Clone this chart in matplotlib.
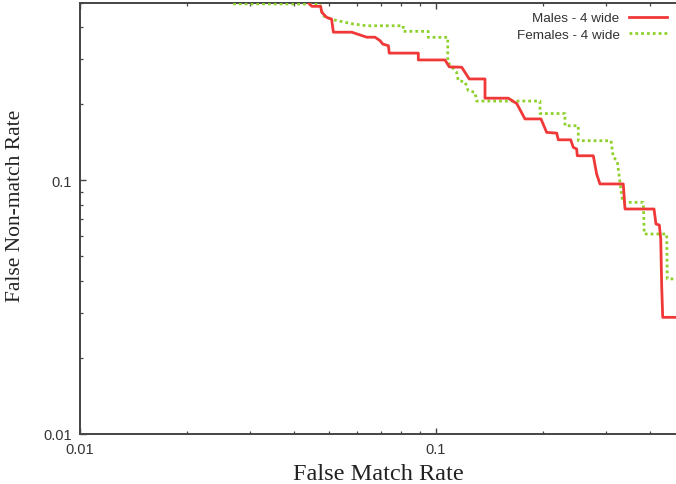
import matplotlib
matplotlib.use("Agg")
import matplotlib.pyplot as plt
from matplotlib.ticker import LogLocator, NullFormatter, FixedLocator, FixedFormatter

# Males - 4 wide (FMR, FNMR)
males_fmr = [0.0425, 0.0448, 0.0474, 0.0478, 0.0493, 0.0509, 0.0515, 0.0580, 0.0639,
             0.0674, 0.0696, 0.0709, 0.0735, 0.0739, 0.0892, 0.0892, 0.1060, 0.1090,
             0.1181, 0.1240, 0.1373, 0.1373, 0.1596, 0.1686, 0.1778, 0.1972, 0.2046,
             0.2183, 0.2206, 0.2390, 0.2430, 0.2484, 0.2494, 0.2766, 0.2827, 0.2888,
             0.3358, 0.3396, 0.4097, 0.4150, 0.4240, 0.4279, 0.4305, 0.4334, 0.50]
males_fnmr = [0.52, 0.483, 0.483, 0.457, 0.437, 0.430, 0.382, 0.382, 0.365,
              0.365, 0.354, 0.343, 0.338, 0.316, 0.316, 0.297, 0.297, 0.279,
              0.278, 0.250, 0.250, 0.210, 0.210, 0.200, 0.174, 0.174, 0.154,
              0.153, 0.144, 0.144, 0.1345, 0.1325, 0.1246, 0.1246, 0.1056, 0.0965,
              0.0965, 0.0769, 0.0769, 0.0671, 0.0665, 0.0586, 0.0384, 0.0288, 0.0288]

# Females - 4 wide (FMR, FNMR)
females_fmr = [0.0269, 0.0472, 0.0481, 0.0515, 0.0586, 0.0639, 0.0809, 0.0809, 0.0951,
               0.0951, 0.1079, 0.1079, 0.1143, 0.1155, 0.1206, 0.1232, 0.1287, 0.1301,
               0.1960, 0.1960, 0.2303, 0.2303, 0.2510, 0.2510, 0.3102, 0.3148, 0.3230,
               0.3287, 0.3345, 0.3822, 0.3847, 0.4447, 0.4465, 0.50]
females_fnmr = [0.494, 0.493, 0.4436, 0.4276, 0.4113, 0.4050, 0.4050, 0.3850, 0.3850,
                0.3646, 0.3646, 0.2906, 0.2655, 0.2460, 0.2438, 0.2247, 0.2215, 0.2046,
                0.2046, 0.1827, 0.1827, 0.1636, 0.1636, 0.1428, 0.1428, 0.1228, 0.1191,
                0.0979, 0.0817, 0.0817, 0.0613, 0.0613, 0.0408, 0.0408]

x_ticks = [0.01, 0.1]
y_ticks = [0.01, 0.1]
tick_labels = ["0.01", "0.1"]

fig = plt.figure(figsize=(6.76, 4.85), dpi=100)
ax = fig.add_axes([80/676, 50/485, 596/676, 431.5/485])
ax.set_xscale("log")
ax.set_yscale("log")

ax.plot(females_fmr, females_fnmr, color="#8fd12c", lw=2.0, ls=(0, (1, 1.1)),
        label="Females - 4 wide", zorder=3)
ax.plot(males_fmr, males_fnmr, color="#f03838", lw=2.0, label="Males - 4 wide", zorder=4)

ax.set_xlim(0.01, 0.4723)
ax.set_ylim(0.01, 0.5)

ax.xaxis.set_major_locator(FixedLocator(x_ticks))
ax.xaxis.set_major_formatter(FixedFormatter(tick_labels))
ax.yaxis.set_major_locator(FixedLocator(y_ticks))
ax.yaxis.set_major_formatter(FixedFormatter(tick_labels))
ax.xaxis.set_minor_locator(LogLocator(base=10, subs=range(2, 10)))
ax.yaxis.set_minor_locator(LogLocator(base=10, subs=range(2, 10)))
ax.xaxis.set_minor_formatter(NullFormatter())
ax.yaxis.set_minor_formatter(NullFormatter())

ax.tick_params(which="both", direction="in", top=True, right=False, color="#444444",
               labelsize=10.5, labelcolor="#333333", labelfontfamily="Liberation Sans")
ax.tick_params(which="major", length=4, width=1.0, pad=6)
ax.tick_params(which="minor", length=2.5, width=0.9)

for s in ["left", "bottom", "top"]:
    ax.spines[s].set_color("#444444")
    ax.spines[s].set_linewidth(1.4)
ax.spines["right"].set_visible(False)

ax.set_xlabel("False Match Rate", fontfamily="Liberation Serif", fontsize=17.5,
              color="#222222", labelpad=5)
ax.set_ylabel("False Non-match Rate", fontfamily="Liberation Serif", fontsize=15.5,
              color="#222222")
ax.yaxis.set_label_coords(-0.093, 0.531)

h, l = ax.get_legend_handles_labels()
leg = ax.legend(h[::-1], l[::-1], loc="upper right", frameon=False, markerfirst=False,
                handlelength=2.8, handletextpad=0.7, labelspacing=0.3,
                borderaxespad=0.5, borderpad=0.2,
                prop={"family": "Liberation Sans", "size": 9.7})
for t in leg.get_texts():
    t.set_color("#333333")

fig.savefig("out.png", dpi=100)
